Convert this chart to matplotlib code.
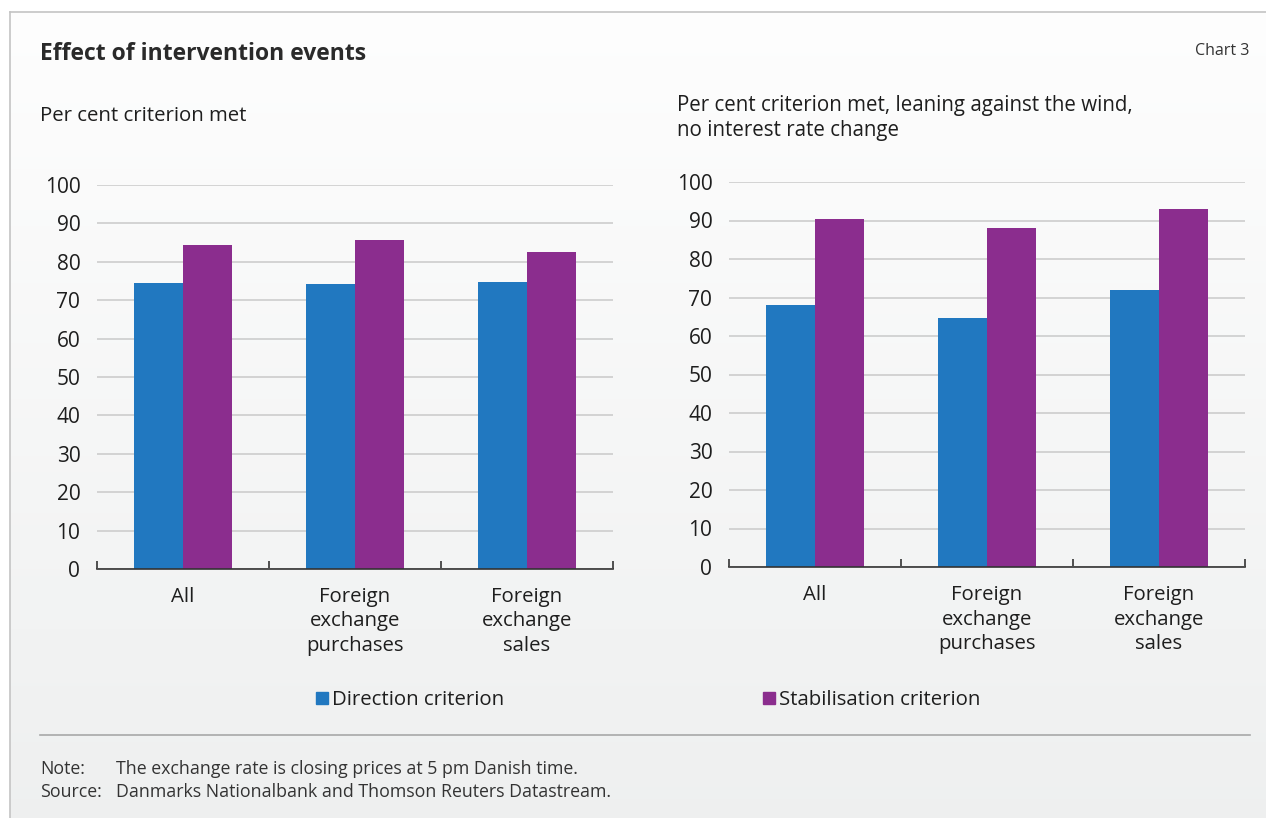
import numpy as np
import matplotlib
matplotlib.use("Agg")
import matplotlib.pyplot as plt
from matplotlib.patches import Rectangle

# data
categories = ["All", "Foreign\nexchange\npurchases", "Foreign\nexchange\nsales"]
direction_left = [74.5, 74.2, 74.7]
stabilisation_left = [84.4, 85.7, 82.6]
direction_right = [68.1, 64.7, 71.9]
stabilisation_right = [90.4, 88.1, 93.0]
yticks = list(range(0, 101, 10))

blue = "#2178c0"
purple = "#8b2d8e"
txt = "#1e1e1e"
plt.rcParams['font.family'] = ['Open Sans', 'DejaVu Sans']

fig = plt.figure(figsize=(12.66, 8.18), dpi=100)

# background panel with soft vertical gradient
bg = fig.add_axes([0, 0, 1, 1], zorder=-10)
bg.set_xlim(0, 1266)
bg.set_ylim(818, 0)
bg.axis("off")
grad = np.linspace(0, 1, 256).reshape(-1, 1)
top_c = np.array([0.995, 0.995, 0.995])
bot_c = np.array([0.935, 0.94, 0.94])
img = top_c + grad[..., None] * (bot_c - top_c)
bg.imshow(img, extent=[10, 1266, 818, 12], aspect="auto", zorder=0)
bg.plot([10, 1266], [12, 12], color="#c4c4c4", lw=1.2, zorder=1)
bg.plot([10, 10], [12, 818], color="#c4c4c4", lw=1.2, zorder=1)
bg.plot([40, 1250], [735, 735], color="#a8a8a8", lw=1.2, zorder=1)


def draw_panel(rect, d, s):
    ax = fig.add_axes(rect)
    ax.patch.set_alpha(0)
    x = np.arange(len(categories)) + 0.5
    w = 0.285
    ax.bar(x - w / 2, d, w, color=blue, zorder=3)
    ax.bar(x + w / 2, s, w, color=purple, zorder=3)
    ax.set_xlim(0, 3)
    ax.set_ylim(0, 100)
    ax.set_yticks(yticks)
    ax.yaxis.grid(True, color="#d3d3d3", lw=1.4, zorder=0)
    ax.set_axisbelow(True)
    for sp in ["top", "right", "left"]:
        ax.spines[sp].set_visible(False)
    ax.spines["bottom"].set_color("#333333")
    ax.spines["bottom"].set_linewidth(1.2)
    ax.spines["bottom"].set_zorder(5)
    ax.tick_params(axis="y", length=0, pad=12, labelsize=15, labelcolor=txt)
    ax.set_xticks([0, 1, 2, 3])
    ax.set_xticklabels([])
    ax.tick_params(axis="x", direction="in", length=6, width=1.2, color="#333333")
    for xi, lab in zip(x, categories):
        ax.text(xi, -4.6, lab, ha="center", va="top", fontsize=14.7,
                color=txt, linespacing=1.32, transform=ax.transData)
    return ax


draw_panel([97 / 1266, 1 - 569 / 818, 516 / 1266, 384 / 818], direction_left, stabilisation_left)
draw_panel([729 / 1266, 1 - 567 / 818, 516 / 1266, 385 / 818], direction_right, stabilisation_right)

fig.text(40 / 1266, 1 - 54 / 818, "Effect of intervention events", fontsize=16.5,
         fontweight="bold", color="#2a2a2a", va="center", ha="left")
fig.text(1249 / 1266, 1 - 51 / 818, "Chart 3", fontsize=11.5, color="#333333",
         va="center", ha="right")
fig.text(40 / 1266, 1 - 116 / 818, "Per cent criterion met", fontsize=14.7,
         color=txt, va="center", ha="left")
fig.text(677 / 1266, 1 - 118 / 818,
         "Per cent criterion met, leaning against the wind,\nno interest rate change",
         fontsize=14.8, color=txt, va="center", ha="left", linespacing=1.3)

# legend
bg.add_patch(Rectangle((316, 692), 12, 12, color=blue, zorder=2))
bg.text(332, 700, "Direction criterion", fontsize=14.7, color=txt, va="center", ha="left")
bg.add_patch(Rectangle((763, 692), 12, 12, color=purple, zorder=2))
bg.text(779, 700, "Stabilisation criterion", fontsize=14.7, color=txt, va="center", ha="left")

# footnotes
bg.text(40, 769, "Note:", fontsize=12.8, color="#333333", va="center")
bg.text(116, 769, "The exchange rate is closing prices at 5 pm Danish time.",
        fontsize=12.8, color="#333333", va="center")
bg.text(40, 792, "Source:", fontsize=12.8, color="#333333", va="center")
bg.text(116, 792, "Danmarks Nationalbank and Thomson Reuters Datastream.",
        fontsize=12.8, color="#333333", va="center")

fig.savefig("out.png", dpi=100)
